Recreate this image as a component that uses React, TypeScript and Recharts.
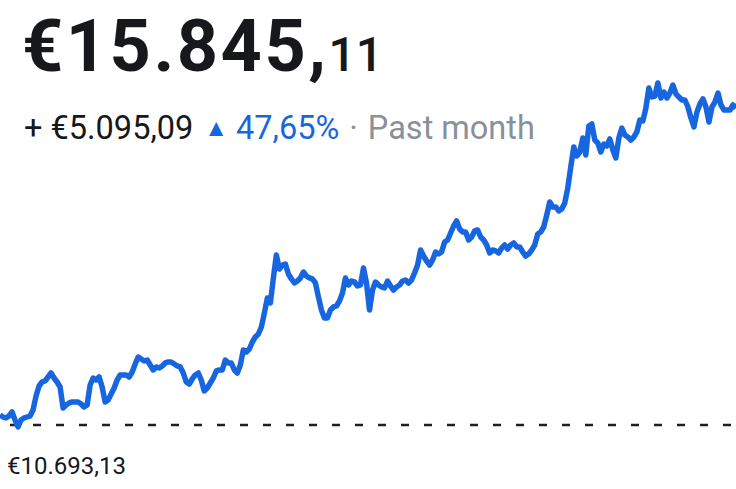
import { LineChart, Line, XAxis, YAxis, ReferenceLine } from 'recharts';

// hourly-ish samples over the past month
const prices = [
  10856, 10823, 10807, 10839, 10904, 10774, 10661, 10774, 10807, 10823,
  10839, 10937, 11164, 11327, 11392, 11408, 11473, 11538, 11457, 11392,
  11311, 10969, 11018, 11051, 11067, 11067, 11067, 11034, 10986, 11018,
  11343, 11457, 11424, 11473, 11311, 11067, 11099, 11197, 11294, 11424,
  11506, 11506, 11506, 11473, 11554, 11684, 11798, 11766, 11733, 11749,
  11668, 11587, 11636, 11619, 11652, 11701, 11717, 11717, 11684, 11652,
  11636, 11538, 11392, 11359, 11441, 11506, 11538, 11424, 11246, 11294,
  11376, 11457, 11571, 11587, 11587, 11749, 11701, 11701, 11587, 11538,
  11668, 11912, 11879, 11928, 12042, 12123, 12172, 12286, 12513, 12757,
  12676, 13082, 13456, 13228, 13293, 13309, 13147, 13066, 13001, 13033,
  13082, 13179, 13114, 13082, 13066, 13001, 12773, 12562, 12432, 12432,
  12562, 12611, 12627, 12708, 12838, 13082, 12968, 13033, 13017, 12952,
  12968, 13244, 13001, 12562, 12887, 13017, 12968, 12936, 12919, 13033,
  12952, 12887, 12936, 12968, 13033, 13049, 13001, 13049, 13163, 13293,
  13537, 13439, 13358, 13293, 13374, 13504, 13472, 13504, 13667, 13699,
  13813, 13927, 14008, 13878, 13829, 13829, 13699, 13748, 13846, 13862,
  13748, 13699, 13618, 13488, 13537, 13521, 13488, 13569, 13618, 13553,
  13618, 13651, 13586, 13586, 13504, 13439, 13472, 13537, 13618, 13797,
  13829, 13911, 14106, 14317, 14236, 14236, 14171, 14203, 14301, 14544,
  14886, 15211, 15064, 15129, 15357, 15081, 15552, 15584, 15324, 15276,
  15129, 15259, 15227, 15341, 15162, 15032, 15357, 15519, 15406, 15373,
  15324, 15373, 15454, 15649, 15633, 15844, 16169, 16023, 16039, 16251,
  16007, 16104, 16007, 16088, 16218, 16072, 16023, 15974, 15974, 15861,
  15682, 15536, 15779, 15909, 15991, 15861, 15617, 15861, 15942, 16088,
  15893, 15812, 15812, 15812, 15893, 15844,
];

const startPrice = 10693.13;
const currentMain = '€15.845,';
const currentCents = '11';
const change = '+ €5.095,09';
const changePct = '47,65%';
const period = 'Past month';
const startLabel = '€10.693,13';

const data = prices.map((p, i) => ({ i, price: p }));

const BLUE = '#1766DF';
const FONT = 'Roboto, "Noto Sans", sans-serif';

export default function App() {
  return (
    <div
      style={{
        position: 'fixed',
        left: 0,
        top: 0,
        width: 736,
        height: 489,
        background: '#fff',
        overflow: 'hidden',
        fontFamily: FONT,
      }}
    >
      <div style={{ position: 'absolute', left: 0, top: 0 }}>
        <LineChart
          width={736}
          height={489}
          data={data}
          margin={{ top: 60, right: 0, bottom: 49, left: 0 }}
        >
          <XAxis dataKey="i" hide />
          <YAxis hide width={0} domain={[10449.25, 16624.25]} />
          <ReferenceLine
            y={startPrice}
            stroke="#1f1f1f"
            strokeWidth={2.5}
            strokeDasharray="8 15"
            strokeDashoffset={13}
          />
          <Line
            type="linear"
            dataKey="price"
            stroke={BLUE}
            strokeWidth={5.5}
            strokeLinejoin="round"
            dot={false}
            isAnimationActive={false}
          />
        </LineChart>
      </div>

      <div
        style={{
          position: 'absolute',
          left: 22,
          top: 11,
          color: '#16181c',
          whiteSpace: 'nowrap',
          lineHeight: 1,
        }}
      >
        <span style={{ fontSize: 72, fontWeight: 700, letterSpacing: 2.5 }}>{currentMain}</span>
        <span style={{ fontSize: 48, fontWeight: 500, marginLeft: 0 }}>{currentCents}</span>
      </div>

      <div
        style={{
          position: 'absolute',
          left: 24,
          top: 112,
          fontSize: 32.5,
          whiteSpace: 'nowrap',
          lineHeight: 1,
          color: '#16181c',
        }}
      >
        <span>{change}</span>
        <span style={{ color: BLUE, fontSize: 24, marginLeft: 11, verticalAlign: 3 }}>▲</span>
        <span style={{ color: BLUE, marginLeft: 8 }}>{changePct}</span>
        <span style={{ color: '#8a9099', marginLeft: 10 }}>·</span>
        <span style={{ color: '#8a9099', marginLeft: 10 }}>{period}</span>
      </div>

      <div
        style={{
          position: 'absolute',
          left: 7,
          top: 454,
          fontSize: 24,
          color: '#16181c',
          whiteSpace: 'nowrap',
          lineHeight: 1,
        }}
      >
        {startLabel}
      </div>
    </div>
  );
}
